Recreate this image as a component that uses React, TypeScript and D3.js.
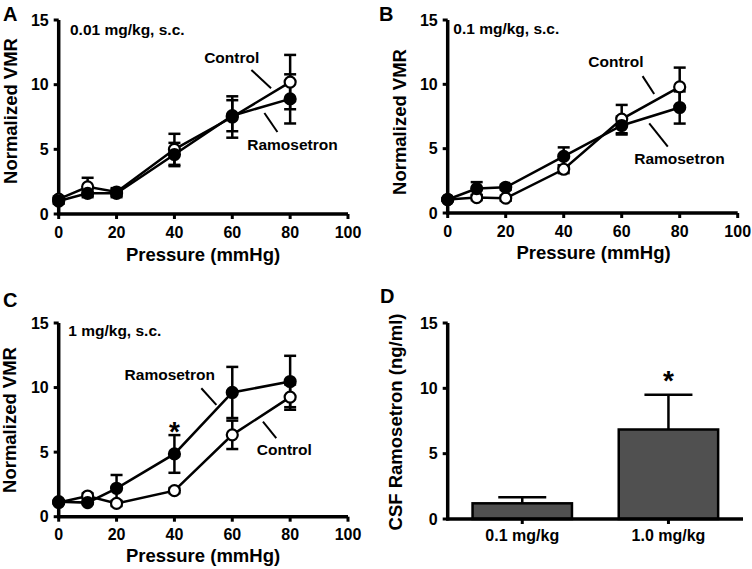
import React from 'react';
import * as d3 from 'd3';

// shared axes
const pressure = [0, 10, 20, 40, 60, 80];
const xTicks = [0, 20, 40, 60, 80, 100];
const yTicks = [0, 5, 10, 15];

// panel A, 0.01 mg/kg
const controlA = [1.15, 2.1, 1.7, 5.0, 7.5, 10.2];
const controlErrA = [0.2, 0.7, 0.3, 1.2, 1.6, 2.1];
const ramoA = [1.0, 1.6, 1.6, 4.6, 7.6, 8.9];
const ramoErrA = [0.2, 0.3, 0.3, 0.9, 1.2, 1.9];

// panel B, 0.1 mg/kg
const controlB = [1.05, 1.2, 1.15, 3.4, 7.3, 9.8];
const controlErrB = [0.1, 0.2, 0.2, 0.3, 1.1, 1.5];
const ramoB = [1.05, 1.9, 2.0, 4.4, 6.8, 8.2];
const ramoErrB = [0.1, 0.5, 0.2, 0.7, 0.7, 1.25];

// panel C, 1 mg/kg
const controlC = [1.1, 1.6, 1.03, 2.02, 6.34, 9.26];
const controlErrC = [0.1, 0.2, 0.2, 0.2, 1.1, 0.98];
const ramoC = [1.16, 1.09, 2.2, 4.86, 9.62, 10.47];
const ramoErrC = [0.1, 0.1, 1.03, 1.46, 1.98, 1.99];

// panel D, CSF levels
const doses = ['0.1 mg/kg', '1.0 mg/kg'];
const csf = [1.2, 6.85];
const csfErr = [0.47, 2.65];

const FONT = '"Liberation Sans", Arial, Helvetica, sans-serif';

type Label = { text: string; at: [number, number]; from: [number, number]; to: [number, number] };

type PanelProps = {
  x0: number; x1: number; yBottom: number; yTop: number;
  letter: string; letterX: number; letterY: number;
  dose: string; doseX: number; doseY: number;
  yTitleX: number; yTitleY: number; xTitleX: number; xTitleY: number; tickY: number;
  control: number[]; controlErr: number[]; ramo: number[]; ramoErr: number[];
  labels: Label[];
  star?: number;
};

const LinePanel = (p: PanelProps) => {
  const x = d3.scaleLinear().domain([0, 100]).range([p.x0, p.x1]);
  const y = d3.scaleLinear().domain([0, 15]).range([p.yBottom, p.yTop]);
  const line = d3.line<number>().x((d, i) => x(pressure[i])).y(d => y(d));

  const errBars = (vals: number[], errs: number[], key: string) =>
    vals.map((v, i) => {
      const cx = x(pressure[i]);
      const lo = y(v - errs[i]);
      const hi = y(v + errs[i]);
      return (
        <g key={key + i} stroke="#000" strokeWidth={2.5}>
          <line x1={cx} x2={cx} y1={lo} y2={hi} />
          <line x1={cx - 6} x2={cx + 6} y1={hi} y2={hi} />
          <line x1={cx - 6} x2={cx + 6} y1={lo} y2={lo} />
        </g>
      );
    });

  const starIdx = p.star;

  return (
    <g fontFamily={FONT} fontWeight="bold">
      <text x={p.letterX} y={p.letterY} fontSize={20}>{p.letter}</text>
      {/* axes */}
      <line x1={p.x0} x2={p.x0} y1={p.yBottom + 1.5} y2={p.yTop} stroke="#000" strokeWidth={3.5} />
      <line x1={p.x0 - 1.5} x2={p.x1} y1={p.yBottom} y2={p.yBottom} stroke="#000" strokeWidth={3.5} />
      {yTicks.map(t => (
        <g key={'y' + t}>
          <line x1={p.x0 - 5} x2={p.x0} y1={y(t)} y2={y(t)} stroke="#000" strokeWidth={3} />
          <text x={p.x0 - 10} y={y(t)} dy="0.35em" textAnchor="end" fontSize={16}>{t}</text>
        </g>
      ))}
      {xTicks.map(t => (
        <g key={'x' + t}>
          <line x1={x(t)} x2={x(t)} y1={p.yBottom} y2={p.yBottom + 5} stroke="#000" strokeWidth={3} />
          <text x={x(t)} y={p.tickY} dy="0.35em" textAnchor="middle" fontSize={16}>{t}</text>
        </g>
      ))}
      <text transform={`translate(${p.yTitleX},${p.yTitleY}) rotate(-90)`} dy="0.35em" textAnchor="middle" fontSize={18.5}>
        Normalized VMR
      </text>
      <text x={p.xTitleX} y={p.xTitleY} dy="0.35em" textAnchor="middle" fontSize={18.5}>Pressure (mmHg)</text>
      <text x={p.doseX} y={p.doseY} dy="0.35em" fontSize={15.5}>{p.dose}</text>

      {/* series */}
      <path d={line(p.control) || ''} fill="none" stroke="#000" strokeWidth={2.5} />
      <path d={line(p.ramo) || ''} fill="none" stroke="#000" strokeWidth={2.5} />
      {errBars(p.control, p.controlErr, 'ce')}
      {errBars(p.ramo, p.ramoErr, 're')}
      {p.control.map((v, i) => (
        <circle key={'c' + i} cx={x(pressure[i])} cy={y(v)} r={5.5} fill="#fff" stroke="#000" strokeWidth={2.2} />
      ))}
      {p.ramo.map((v, i) => (
        <circle key={'r' + i} cx={x(pressure[i])} cy={y(v)} r={5.5} fill="#000" stroke="#000" strokeWidth={2.2} />
      ))}

      {/* leader labels */}
      {p.labels.map(l => (
        <g key={l.text}>
          <line x1={x(l.from[0])} y1={y(l.from[1])} x2={x(l.to[0])} y2={y(l.to[1])} stroke="#000" strokeWidth={2} />
          <text x={x(l.at[0])} y={y(l.at[1])} dy="0.35em" textAnchor="middle" fontSize={15.5}>{l.text}</text>
        </g>
      ))}
      {starIdx !== undefined && (
        <text x={x(pressure[starIdx])} y={y(p.ramo[starIdx] + p.ramoErr[starIdx]) + 6} textAnchor="middle" fontSize={28}>*</text>
      )}
    </g>
  );
};

const BarPanel = () => {
  const x0 = 447.7;
  const x = d3.scaleBand<string>().domain(doses).range([x0, 743]).paddingInner(0.32).paddingOuter(0.17);
  const y = d3.scaleLinear().domain([0, 15]).range([519, 323]);
  return (
    <g fontFamily={FONT} fontWeight="bold">
      <text x={380} y={303} fontSize={20}>D</text>
      {doses.map((d, i) => {
        const bx = x(d) as number;
        const cx = bx + x.bandwidth() / 2;
        const top = y(csf[i] + csfErr[i]);
        return (
          <g key={d}>
            <line x1={cx} x2={cx} y1={y(csf[i])} y2={top} stroke="#000" strokeWidth={2.5} />
            <line x1={cx - 24} x2={cx + 24} y1={top} y2={top} stroke="#000" strokeWidth={2.5} />
            <rect x={bx} y={y(csf[i])} width={x.bandwidth()} height={y(0) - y(csf[i])} fill="#505050" stroke="#000" strokeWidth={2.5} />
            <line x1={cx} x2={cx} y1={y(0)} y2={y(0) + 5} stroke="#000" strokeWidth={3} />
            <text x={cx} y={535} dy="0.35em" textAnchor="middle" fontSize={16}>{d}</text>
          </g>
        );
      })}
      <line x1={x0} x2={x0} y1={y(0) + 1.5} y2={y(15)} stroke="#000" strokeWidth={3.5} />
      <line x1={x0 - 1.5} x2={743} y1={y(0)} y2={y(0)} stroke="#000" strokeWidth={3.5} />
      {yTicks.map(t => (
        <g key={t}>
          <line x1={x0 - 5} x2={x0} y1={y(t)} y2={y(t)} stroke="#000" strokeWidth={3} />
          <text x={x0 - 10} y={y(t)} dy="0.35em" textAnchor="end" fontSize={16}>{t}</text>
        </g>
      ))}
      <text transform="translate(396,422) rotate(-90)" dy="0.35em" textAnchor="middle" fontSize={18.5}>
        CSF Ramosetron (ng/ml)
      </text>
      <text x={x(doses[1])! + x.bandwidth() / 2} y={y(csf[1] + csfErr[1]) - 5} textAnchor="middle" fontSize={28}>*</text>
    </g>
  );
};

const App = () => (
  <div style={{ position: 'absolute', left: 0, top: 0 }}>
    <svg width={752} height={569} style={{ display: 'block', background: '#fff' }}>
      <LinePanel
        x0={58.7} x1={348} yBottom={214} yTop={20}
        letter="A" letterX={3} letterY={21}
        dose="0.01 mg/kg, s.c." doseX={70} doseY={29.5}
        yTitleX={11} yTitleY={111} xTitleX={203} xTitleY={255} tickY={232}
        control={controlA} controlErr={controlErrA} ramo={ramoA} ramoErr={ramoErrA}
        labels={[
          { text: 'Control', at: [59.8, 12.06], from: [66.6, 11.14], to: [73.4, 9.72] },
          { text: 'Ramosetron', at: [80.8, 5.34], from: [71.1, 7.81], to: [75.6, 6.34] },
        ]}
      />
      <LinePanel
        x0={447.7} x1={737.7} yBottom={213} yTop={20}
        letter="B" letterX={379} letterY={21}
        dose="0.1 mg/kg, s.c." doseX={453.3} doseY={29}
        yTitleX={400} yTitleY={122} xTitleX={593.5} xTitleY={253} tickY={231.5}
        control={controlB} controlErr={controlErrB} ramo={ramoB} ramoErr={ramoErrB}
        labels={[
          { text: 'Control', at: [58.0, 11.73], from: [67.2, 10.64], to: [71.2, 9.25] },
          { text: 'Ramosetron', at: [79.9, 4.25], from: [69.5, 6.97], to: [75.9, 5.15] },
        ]}
      />
      <LinePanel
        x0={58.7} x1={348} yBottom={516.7} yTop={323}
        letter="C" letterX={3} letterY={307}
        dose="1 mg/kg, s.c." doseX={68.3} doseY={331}
        yTitleX={10} yTitleY={420} xTitleX={203} xTitleY={556} tickY={534}
        control={controlC} controlErr={controlErrC} ramo={ramoC} ramoErr={ramoErrC}
        labels={[
          { text: 'Ramosetron', at: [38.4, 10.98], from: [49.3, 9.95], to: [54.5, 8.66] },
          { text: 'Control', at: [78.0, 5.17], from: [70.6, 7.36], to: [75.2, 6.08] },
        ]}
        star={3}
      />
      <BarPanel />
    </svg>
  </div>
);

export default App;
